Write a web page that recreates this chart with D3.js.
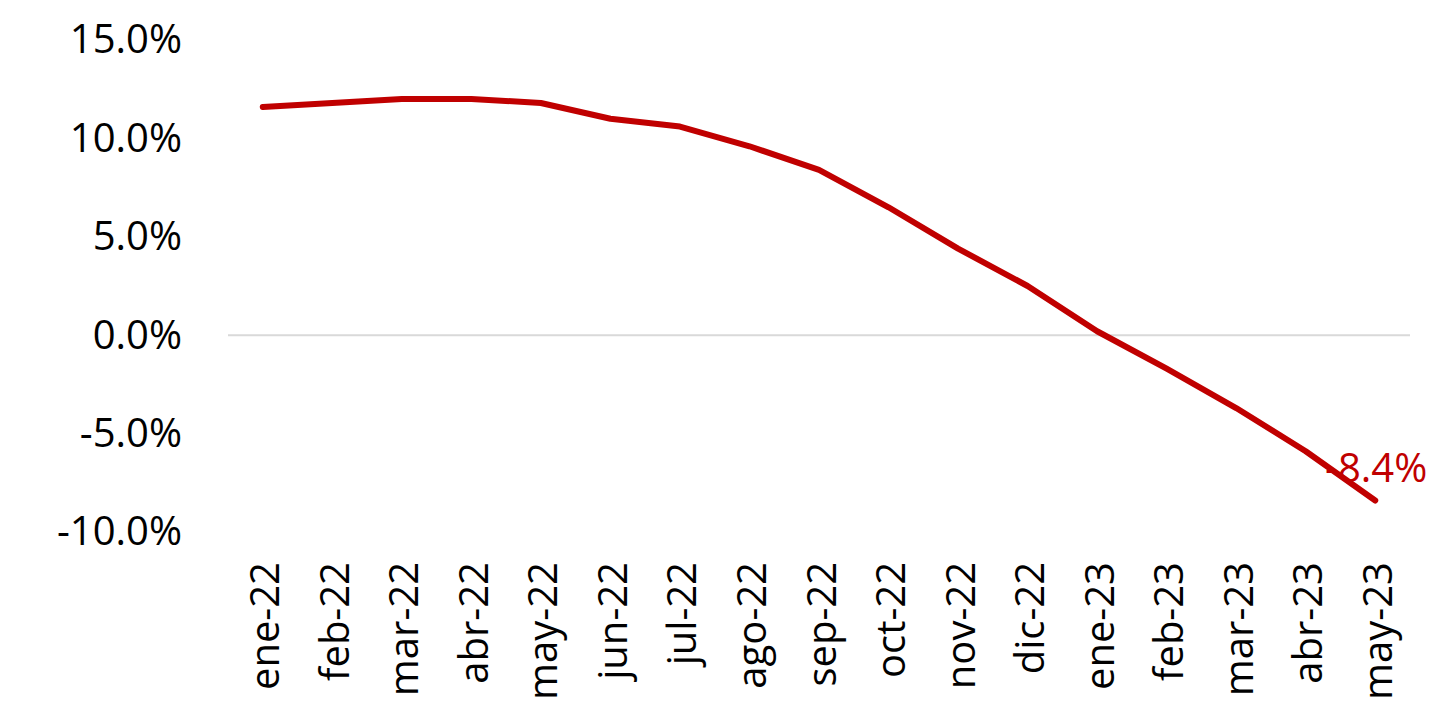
<!DOCTYPE html>
<html><head><meta charset="utf-8">
<script src="https://cdn.jsdelivr.net/npm/d3@7"></script>
<style>body{margin:0;background:#fff;}svg{display:block;font-family:"Open Sans",sans-serif;}</style>
</head><body>
<svg id="c" width="1450" height="701"></svg>
<script>
const categories = ["ene-22","feb-22","mar-22","abr-22","may-22","jun-22","jul-22","ago-22","sep-22","oct-22","nov-22","dic-22","ene-23","feb-23","mar-23","abr-23","may-23"];
const values = [11.6, 11.8, 12.0, 12.0, 11.8, 11.0, 10.6, 9.6, 8.4, 6.5, 4.4, 2.5, 0.2, -1.7, -3.7, -5.9, -8.4];
const yTicks = [15, 10, 5, 0, -5, -10];
const lastLabel = "-8.4%";

const svg = d3.select("#c");
const pLeft = 228, pRight = 1410, pTop = 40, pBottom = 532;
const fs = 40;
const x = d3.scalePoint().domain(categories).range([pLeft, pRight]).padding(0.5);
const y = d3.scaleLinear().domain([-10, 15]).range([pBottom, pTop]);

// zero line
svg.append("line").attr("x1", pLeft).attr("x2", pRight)
  .attr("y1", y(0)).attr("y2", y(0))
  .attr("stroke", "#d9d9d9").attr("stroke-width", 2);

// y axis
const yAxis = d3.axisLeft(y).tickValues(yTicks).tickSize(0).tickPadding(0)
  .tickFormat(d => d.toFixed(1) + "%");
const gy = svg.append("g").attr("transform", "translate(182,0)").call(yAxis);
gy.select(".domain").remove();
gy.selectAll("text").attr("font-size", fs).attr("fill", "#000").attr("font-family", "Open Sans, sans-serif");

// x axis
const xAxis = d3.axisBottom(x).tickSize(0).tickPadding(0);
const gx = svg.append("g").attr("transform", "translate(2,562)").call(xAxis);
gx.select(".domain").remove();
gx.selectAll("text").attr("font-size", fs).attr("fill", "#000").attr("font-family", "Open Sans, sans-serif")
  .attr("text-anchor", "end").attr("transform", "rotate(-90)")
  .attr("x", 0).attr("y", 0).attr("dy", "0.35em");

// line
const line = d3.line().x((d, i) => x(categories[i])).y(d => y(d));
svg.append("path").datum(values).attr("d", line)
  .attr("fill", "none").attr("stroke", "#C00000").attr("stroke-width", 6)
  .attr("stroke-linecap", "round").attr("stroke-linejoin", "round");

// last label
const lastI = values.length - 1;
svg.append("text").attr("x", x(categories[lastI]) + 52).attr("y", y(values[lastI]) - 19)
  .attr("text-anchor", "end").attr("font-size", fs).attr("fill", "#C00000")
  .text(lastLabel);
</script>
</body></html>
